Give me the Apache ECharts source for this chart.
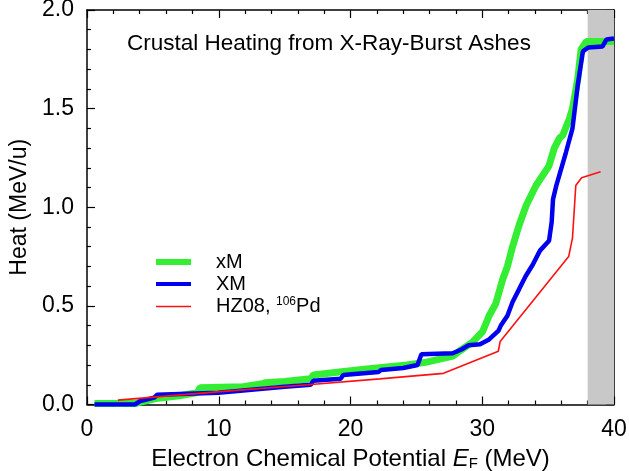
<!DOCTYPE html>
<html>
<head>
<meta charset="utf-8">
<script src="https://cdn.jsdelivr.net/npm/echarts@6/dist/echarts.min.js"></script>
<style>
  html, body { margin: 0; padding: 0; background: #fff; }
  #chart { width: 629px; height: 471px; }
</style>
</head>
<body>
<div id="chart"></div>
<script>
// xM (green)
var xmE    = [0.57, 3.63, 4.23, 5.22, 7.0, 8.38, 8.58, 11.84, 13.32, 13.52, 15.0, 16.98, 17.18, 19.16, 21.23, 24.3, 25.78, 27.76, 28.25, 29.24, 30.03, 30.52, 31.02, 31.56, 31.91, 32.3, 32.8, 33.34, 34.08, 35.07, 35.47, 35.86, 36.11, 36.62, 36.85, 37.25, 37.5, 37.89, 40];
var xmHeat = [0.005, 0.005, 0.015, 0.03, 0.044, 0.06, 0.085, 0.09, 0.105, 0.11, 0.117, 0.13, 0.15, 0.165, 0.18, 0.2, 0.215, 0.245, 0.27, 0.315, 0.37, 0.45, 0.51, 0.636, 0.70, 0.80, 0.91, 1.01, 1.11, 1.21, 1.30, 1.35, 1.365, 1.45, 1.50, 1.65, 1.80, 1.84, 1.84];

// XM (blue)
var XME    = [0.57, 3.63, 4.03, 5.12, 5.32, 9.96, 15.0, 16.98, 17.18, 19.25, 19.45, 22.12, 22.32, 24.0, 25.09, 25.38, 27.76, 28.45, 28.94, 29.83, 30.52, 31.22, 31.41, 31.91, 32.3, 32.8, 33.29, 33.84, 34.38, 35.07, 35.27, 35.37, 35.62, 36.36, 36.85, 37.25, 37.64, 38.04, 39.13, 39.42, 40];
var XMHeat = [0.0, 0.0, 0.017, 0.035, 0.05, 0.06, 0.09, 0.1, 0.12, 0.13, 0.15, 0.165, 0.175, 0.185, 0.2, 0.255, 0.26, 0.28, 0.3, 0.305, 0.33, 0.373, 0.40, 0.45, 0.52, 0.585, 0.65, 0.71, 0.78, 0.83, 0.925, 1.04, 1.11, 1.28, 1.40, 1.62, 1.79, 1.81, 1.815, 1.85, 1.855];

// HZ08, 106Pd (red)
var hzE    = [2.35, 9.86, 16.78, 22.22, 27.06, 31.22, 31.36, 36.56, 36.85, 37.1, 37.54, 38.98];
var hzHeat = [0.022, 0.064, 0.1, 0.13, 0.158, 0.27, 0.32, 0.75, 0.845, 1.11, 1.15, 1.18];

var bandStart = 38;
var bandEnd = 40;

function pairs(e, h) {
    var res = [];
    for (var i = 0; i < e.length; i++) {
        res.push([e[i], h[i]]);
    }
    return res;
}

var font = 'Liberation Sans, Arial, sans-serif';
var myChart = echarts.init(document.getElementById('chart'));

var tickStyle = { color: '#000', width: 1.2 };
function xAx(pos, labels) {
    return {
        type: 'value', min: 0, max: 40, interval: 10, position: pos,
        axisLine: { show: true, onZero: false, lineStyle: { color: '#000', width: 1.5 } },
        axisTick: { show: true, inside: true, length: 8, lineStyle: tickStyle },
        minorTick: { show: true, splitNumber: 5, length: 4, lineStyle: tickStyle },
        splitLine: { show: false },
        axisLabel: { show: labels, color: '#000', fontSize: 23, fontFamily: font, margin: 14 }
    };
}
function yAx(pos, labels) {
    return {
        type: 'value', min: 0, max: 2, interval: 0.5, position: pos,
        axisLine: { show: true, onZero: false, lineStyle: { color: '#000', width: 1.5 } },
        axisTick: { show: true, inside: true, length: 8, lineStyle: tickStyle },
        minorTick: { show: true, splitNumber: 5, length: 4, lineStyle: tickStyle },
        splitLine: { show: false },
        axisLabel: {
            show: labels, color: '#000', fontSize: 23, fontFamily: font, margin: 13,
            formatter: function (v) { return v.toFixed(1); }
        }
    };
}

var xBottom = xAx('bottom', true);
xBottom.name = 'Electron Chemical Potential {it|E}{sub|F} (MeV)';
xBottom.nameLocation = 'middle';
xBottom.nameGap = 43;
xBottom.nameTextStyle = {
    color: '#000', fontSize: 24, fontFamily: font,
    rich: {
        it: { fontStyle: 'italic', fontSize: 24, fontFamily: font, color: '#000' },
        sub: { fontSize: 15, fontFamily: font, color: '#000', verticalAlign: 'bottom', padding: [9, 0, 0, 0] }
    }
};
var yLeft = yAx('left', true);
yLeft.name = 'Heat (MeV/u)';
yLeft.nameLocation = 'middle';
yLeft.nameGap = 46;
yLeft.nameTextStyle = { color: '#000', fontSize: 23, fontFamily: font };

var option = {
    animation: false,
    backgroundColor: '#fff',
    grid: { left: 87, right: 15, top: 10, bottom: 66.5, containLabel: false, outerBoundsMode: 'none' },
    title: {
        text: 'Crustal Heating from X-Ray-Burst Ashes',
        left: 122, top: 27,
        textStyle: { color: '#000', fontSize: 22.5, fontWeight: 'normal', fontFamily: font }
    },
    legend: {
        data: [
            { name: 'xM', lineStyle: { width: 6 } },
            { name: 'XM', lineStyle: { width: 4 } },
            { name: 'HZ08', lineStyle: { width: 1.6 } }
        ],
        orient: 'vertical',
        left: 148, top: 247,
        itemWidth: 35, itemHeight: 14, itemGap: 2,
        itemStyle: { opacity: 0 },
        textStyle: {
            color: '#000', fontSize: 20, fontFamily: font, padding: [0, 0, 0, 20],
            rich: {
                t: { fontSize: 20, fontFamily: font, color: '#000' },
                sup: { fontSize: 12, fontFamily: font, color: '#000', verticalAlign: 'top', padding: [0, 0, 9, 0] }
            }
        },
        formatter: function (name) {
            if (name === 'HZ08') return '{t|HZ08, }{sup|106}{t|Pd}';
            return name;
        }
    },
    xAxis: [xBottom, xAx('top', false)],
    yAxis: [yLeft, yAx('right', false)],
    series: [
        {
            name: 'band', type: 'line', data: [], z: 1, silent: true,
            markArea: {
                silent: true,
                itemStyle: { color: '#c8c8c8' },
                data: [[{ xAxis: bandStart }, { xAxis: bandEnd }]]
            }
        },
        {
            name: 'xM', type: 'line', z: 3, symbol: 'none', color: '#33ee33',
            lineStyle: { color: '#33ee33', width: 7 },
            data: pairs(xmE, xmHeat)
        },
        {
            name: 'XM', type: 'line', z: 4, symbol: 'none', color: '#0000ee',
            lineStyle: { color: '#0000ee', width: 4.5 },
            data: pairs(XME, XMHeat)
        },
        {
            name: 'HZ08', type: 'line', z: 5, symbol: 'none', color: '#ff1010',
            lineStyle: { color: '#ff1010', width: 1.6 },
            data: pairs(hzE, hzHeat)
        }
    ]
};

myChart.setOption(option);
</script>
</body>
</html>
